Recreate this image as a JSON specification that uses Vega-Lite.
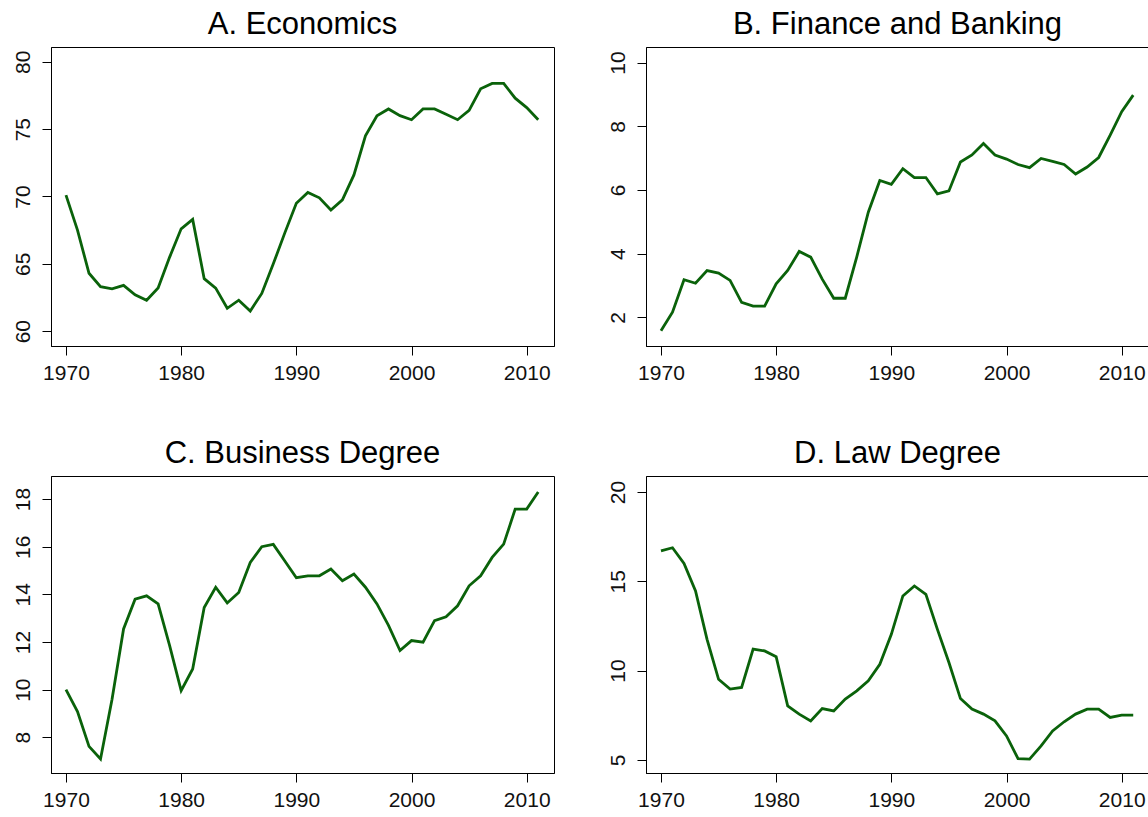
{
  "$schema": "https://vega.github.io/schema/vega-lite/v6.json",
  "autosize": {"type": "pad"},
  "padding": {"left": 5, "top": 8, "right": 0, "bottom": 0},
  "background": "white",
  "config": {
    "view": {"stroke": "black", "strokeWidth": 1},
    "font": "Liberation Sans",
    "axis": {
      "grid": false,
      "domainColor": "black",
      "tickColor": "black",
      "labelColor": "#111111",
      "labelFont": "Liberation Sans",
      "labelFontSize": 21,
      "tickSize": 9,
      "title": null
    },
    "axisX": {"labelPadding": 7, "labelBaseline": "top", "minExtent": 35, "maxExtent": 35},
    "axisY": {"labelAngle": 270, "labelAlign": "center", "labelBaseline": "alphabetic", "labelPadding": 12.7, "minExtent": 45, "maxExtent": 45},
    "title": {"fontSize": 31, "font": "Liberation Sans", "fontWeight": "normal", "color": "black", "offset": 6},
    "line": {"color": "#0a620a", "strokeWidth": 2.8}
  },
  "datasets": {
    "econ": [
      {"year": 1970, "value": 70.1}, {"year": 1971, "value": 67.5}, {"year": 1972, "value": 64.3}, {"year": 1973, "value": 63.3},
      {"year": 1974, "value": 63.15}, {"year": 1975, "value": 63.4}, {"year": 1976, "value": 62.7}, {"year": 1977, "value": 62.3},
      {"year": 1978, "value": 63.2}, {"year": 1979, "value": 65.5}, {"year": 1980, "value": 67.6}, {"year": 1981, "value": 68.3},
      {"year": 1982, "value": 63.9}, {"year": 1983, "value": 63.2}, {"year": 1984, "value": 61.7}, {"year": 1985, "value": 62.3},
      {"year": 1986, "value": 61.5}, {"year": 1987, "value": 62.8}, {"year": 1988, "value": 65.0}, {"year": 1989, "value": 67.3},
      {"year": 1990, "value": 69.5}, {"year": 1991, "value": 70.3}, {"year": 1992, "value": 69.9}, {"year": 1993, "value": 69.0},
      {"year": 1994, "value": 69.75}, {"year": 1995, "value": 71.6}, {"year": 1996, "value": 74.5}, {"year": 1997, "value": 76.0},
      {"year": 1998, "value": 76.5}, {"year": 1999, "value": 76.0}, {"year": 2000, "value": 75.7}, {"year": 2001, "value": 76.5},
      {"year": 2002, "value": 76.5}, {"year": 2003, "value": 76.1}, {"year": 2004, "value": 75.7}, {"year": 2005, "value": 76.4},
      {"year": 2006, "value": 78.0}, {"year": 2007, "value": 78.4}, {"year": 2008, "value": 78.4}, {"year": 2009, "value": 77.3},
      {"year": 2010, "value": 76.6}, {"year": 2011, "value": 75.7}
    ],
    "fin": [
      {"year": 1970, "value": 1.58}, {"year": 1971, "value": 2.16}, {"year": 1972, "value": 3.18}, {"year": 1973, "value": 3.07},
      {"year": 1974, "value": 3.47}, {"year": 1975, "value": 3.39}, {"year": 1976, "value": 3.16}, {"year": 1977, "value": 2.47},
      {"year": 1978, "value": 2.35}, {"year": 1979, "value": 2.35}, {"year": 1980, "value": 3.05}, {"year": 1981, "value": 3.47},
      {"year": 1982, "value": 4.07}, {"year": 1983, "value": 3.89}, {"year": 1984, "value": 3.2}, {"year": 1985, "value": 2.6},
      {"year": 1986, "value": 2.6}, {"year": 1987, "value": 3.9}, {"year": 1988, "value": 5.3}, {"year": 1989, "value": 6.3},
      {"year": 1990, "value": 6.18}, {"year": 1991, "value": 6.67}, {"year": 1992, "value": 6.39}, {"year": 1993, "value": 6.39},
      {"year": 1994, "value": 5.88}, {"year": 1995, "value": 5.97}, {"year": 1996, "value": 6.88}, {"year": 1997, "value": 7.1},
      {"year": 1998, "value": 7.46}, {"year": 1999, "value": 7.1}, {"year": 2000, "value": 6.97}, {"year": 2001, "value": 6.8},
      {"year": 2002, "value": 6.7}, {"year": 2003, "value": 6.99}, {"year": 2004, "value": 6.9}, {"year": 2005, "value": 6.8},
      {"year": 2006, "value": 6.5}, {"year": 2007, "value": 6.72}, {"year": 2008, "value": 7.02}, {"year": 2009, "value": 7.72},
      {"year": 2010, "value": 8.46}, {"year": 2011, "value": 8.98}
    ],
    "bus": [
      {"year": 1970, "value": 10.0}, {"year": 1971, "value": 9.08}, {"year": 1972, "value": 7.62}, {"year": 1973, "value": 7.09},
      {"year": 1974, "value": 9.6}, {"year": 1975, "value": 12.55}, {"year": 1976, "value": 13.8}, {"year": 1977, "value": 13.94},
      {"year": 1978, "value": 13.6}, {"year": 1979, "value": 11.85}, {"year": 1980, "value": 9.96}, {"year": 1981, "value": 10.87},
      {"year": 1982, "value": 13.45}, {"year": 1983, "value": 14.3}, {"year": 1984, "value": 13.64}, {"year": 1985, "value": 14.08},
      {"year": 1986, "value": 15.34}, {"year": 1987, "value": 16.0}, {"year": 1988, "value": 16.1}, {"year": 1989, "value": 15.4},
      {"year": 1990, "value": 14.7}, {"year": 1991, "value": 14.78}, {"year": 1992, "value": 14.78}, {"year": 1993, "value": 15.06},
      {"year": 1994, "value": 14.57}, {"year": 1995, "value": 14.85}, {"year": 1996, "value": 14.3}, {"year": 1997, "value": 13.6},
      {"year": 1998, "value": 12.7}, {"year": 1999, "value": 11.64}, {"year": 2000, "value": 12.06}, {"year": 2001, "value": 11.99},
      {"year": 2002, "value": 12.9}, {"year": 2003, "value": 13.06}, {"year": 2004, "value": 13.52}, {"year": 2005, "value": 14.36},
      {"year": 2006, "value": 14.78}, {"year": 2007, "value": 15.55}, {"year": 2008, "value": 16.11}, {"year": 2009, "value": 17.58},
      {"year": 2010, "value": 17.58}, {"year": 2011, "value": 18.3}
    ],
    "law": [
      {"year": 1970, "value": 16.7}, {"year": 1971, "value": 16.88}, {"year": 1972, "value": 16.0}, {"year": 1973, "value": 14.46},
      {"year": 1974, "value": 11.75}, {"year": 1975, "value": 9.51}, {"year": 1976, "value": 8.96}, {"year": 1977, "value": 9.05},
      {"year": 1978, "value": 11.2}, {"year": 1979, "value": 11.1}, {"year": 1980, "value": 10.78}, {"year": 1981, "value": 8.02},
      {"year": 1982, "value": 7.56}, {"year": 1983, "value": 7.18}, {"year": 1984, "value": 7.87}, {"year": 1985, "value": 7.74},
      {"year": 1986, "value": 8.4}, {"year": 1987, "value": 8.86}, {"year": 1988, "value": 9.42}, {"year": 1989, "value": 10.35},
      {"year": 1990, "value": 12.03}, {"year": 1991, "value": 14.18}, {"year": 1992, "value": 14.74}, {"year": 1993, "value": 14.27},
      {"year": 1994, "value": 12.31}, {"year": 1995, "value": 10.45}, {"year": 1996, "value": 8.43}, {"year": 1997, "value": 7.84},
      {"year": 1998, "value": 7.56}, {"year": 1999, "value": 7.18}, {"year": 2000, "value": 6.34}, {"year": 2001, "value": 5.07},
      {"year": 2002, "value": 5.04}, {"year": 2003, "value": 5.78}, {"year": 2004, "value": 6.62}, {"year": 2005, "value": 7.13},
      {"year": 2006, "value": 7.56}, {"year": 2007, "value": 7.84}, {"year": 2008, "value": 7.84}, {"year": 2009, "value": 7.37},
      {"year": 2010, "value": 7.5}, {"year": 2011, "value": 7.5}
    ]
  },
  "vconcat": [
    {
      "spacing": 45,
      "hconcat": [
        {
          "title": "A. Economics",
          "width": 503, "height": 299,
          "data": {"name": "econ"},
          "mark": {"type": "line"},
          "encoding": {
            "x": {"field": "year", "type": "quantitative", "scale": {"domain": [1968.7, 2012.37], "nice": false, "zero": false}, "axis": {"values": [1970, 1980, 1990, 2000, 2010], "format": "d"}},
            "y": {"field": "value", "type": "quantitative", "scale": {"domain": [58.9, 81.1], "nice": false, "zero": false}, "axis": {"values": [60, 65, 70, 75, 80]}}
          }
        },
        {
          "title": "B. Finance and Banking",
          "width": 503, "height": 299,
          "data": {"name": "fin"},
          "mark": {"type": "line"},
          "encoding": {
            "x": {"field": "year", "type": "quantitative", "scale": {"domain": [1968.7, 2012.37], "nice": false, "zero": false}, "axis": {"values": [1970, 1980, 1990, 2000, 2010], "format": "d"}},
            "y": {"field": "value", "type": "quantitative", "scale": {"domain": [1.1, 10.49], "nice": false, "zero": false}, "axis": {"values": [2, 4, 6, 8, 10]}}
          }
        }
      ]
    },
    {
      "spacing": 45,
      "hconcat": [
        {
          "title": "C. Business Degree",
          "width": 503, "height": 297,
          "data": {"name": "bus"},
          "mark": {"type": "line"},
          "encoding": {
            "x": {"field": "year", "type": "quantitative", "scale": {"domain": [1968.7, 2012.37], "nice": false, "zero": false}, "axis": {"values": [1970, 1980, 1990, 2000, 2010], "format": "d"}},
            "y": {"field": "value", "type": "quantitative", "scale": {"domain": [6.5, 18.97], "nice": false, "zero": false}, "axis": {"values": [8, 10, 12, 14, 16, 18]}}
          }
        },
        {
          "title": "D. Law Degree",
          "width": 503, "height": 297,
          "data": {"name": "law"},
          "mark": {"type": "line"},
          "encoding": {
            "x": {"field": "year", "type": "quantitative", "scale": {"domain": [1968.7, 2012.37], "nice": false, "zero": false}, "axis": {"values": [1970, 1980, 1990, 2000, 2010], "format": "d"}},
            "y": {"field": "value", "type": "quantitative", "scale": {"domain": [4.26, 20.9], "nice": false, "zero": false}, "axis": {"values": [5, 10, 15, 20]}}
          }
        }
      ]
    }
  ],
  "spacing": 53
}
